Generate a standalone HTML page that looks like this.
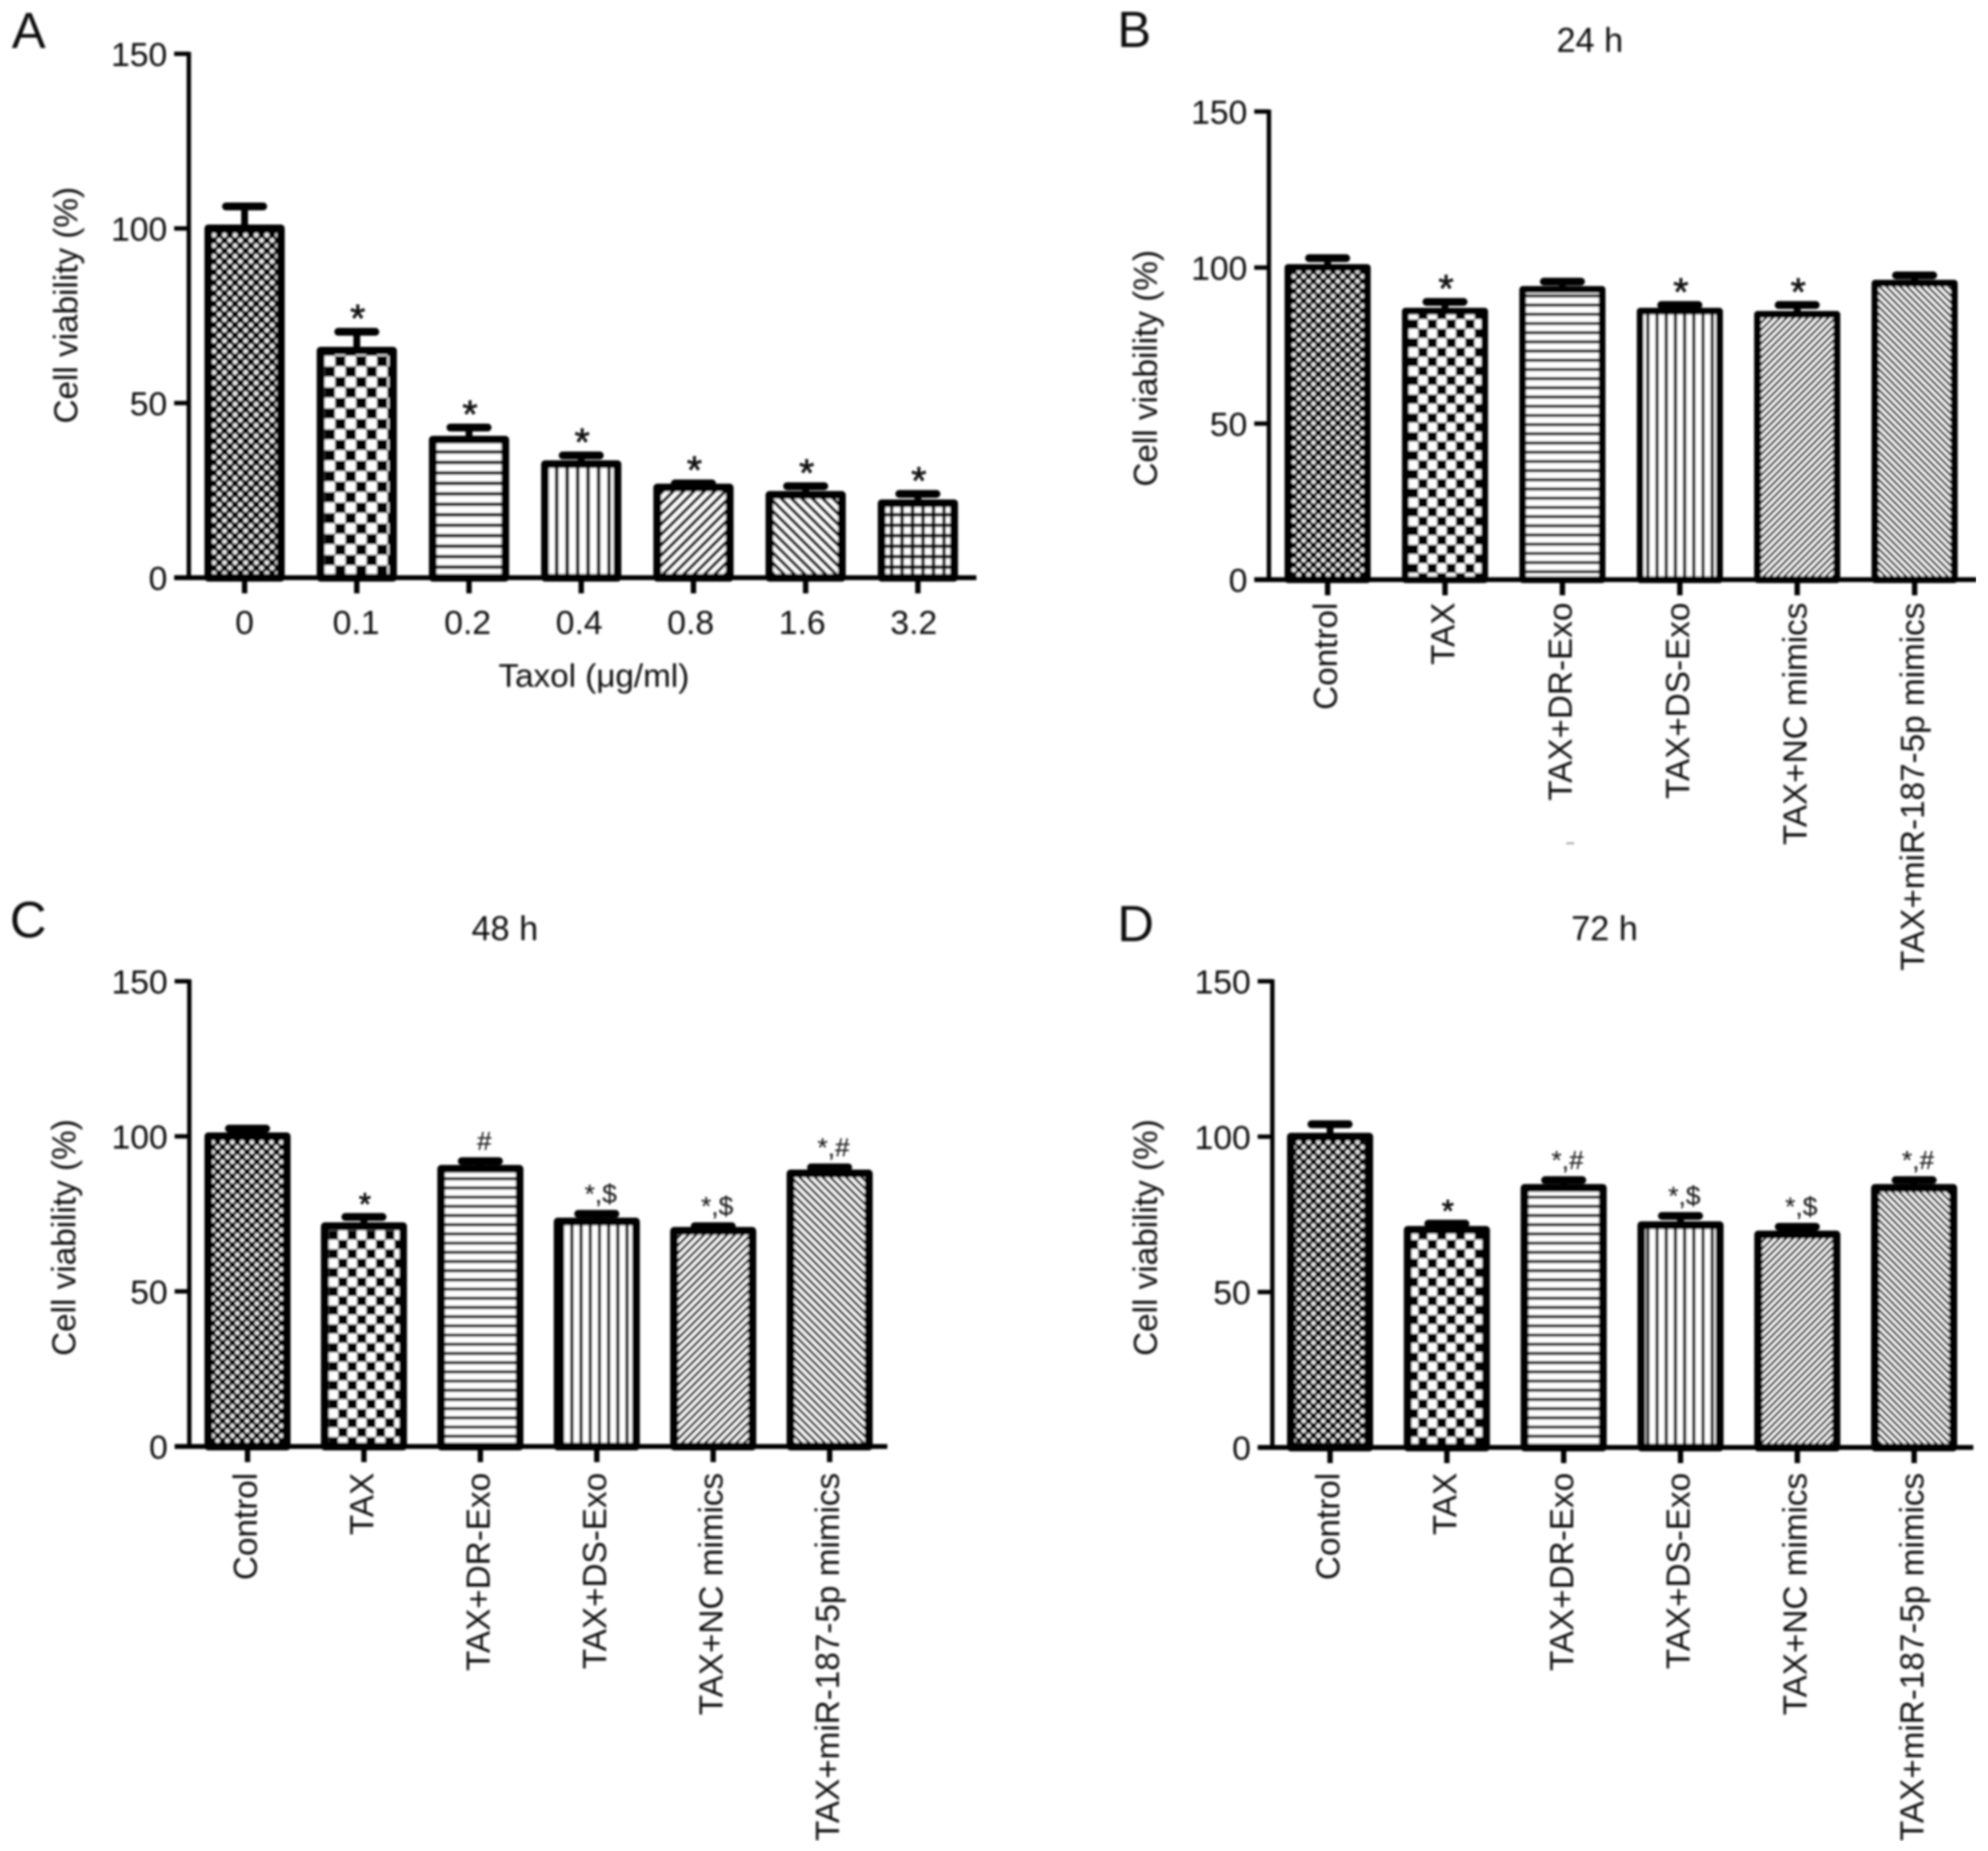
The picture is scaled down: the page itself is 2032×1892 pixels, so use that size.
<!DOCTYPE html>
<html lang="en">
<head>
<meta charset="utf-8">
<title>Cell viability panels</title>
<style>
html,body{margin:0;padding:0;background:#fff;}
svg{display:block;}
text{font-family:"Liberation Sans",Arial,sans-serif;fill:#111;}
</style>
</head>
<body>
<svg id="figure" xmlns="http://www.w3.org/2000/svg" width="2032" height="1892" viewBox="0 0 2032 1892">
<defs>
<filter id="soft" x="0" y="0" width="100%" height="100%"><feGaussianBlur stdDeviation="1"/></filter>
</defs>
<rect width="2032" height="1892" fill="#fff"/>
<g id="root" filter="url(#soft)">
<text x="12" y="49" font-size="52">A</text>
<text x="1142" y="48" font-size="52">B</text>
<text x="10" y="958" font-size="52">C</text>
<text x="1142" y="962" font-size="52">D</text>
<text x="1625" y="53" font-size="35" text-anchor="middle">24 h</text>
<text x="516" y="961" font-size="35" text-anchor="middle">48 h</text>
<text x="1640" y="961" font-size="35" text-anchor="middle">72 h</text>
<text x="607" y="702" font-size="33" text-anchor="middle" textLength="195" lengthAdjust="spacingAndGlyphs">Taxol (μg/ml)</text>
<rect x="1601" y="861" width="8" height="2" fill="#aaa"/>
</g>
</svg>
<script>
var yTickLabels = [0, 50, 100, 150];

var panelACategories = ['0', '0.1', '0.2', '0.4', '0.8', '1.6', '3.2'];
var panelAValues = [100, 65, 39.5, 32.5, 25.8, 23.7, 21.3];
var panelAErrorTops = [106.3, 70.4, 43, 35, 27, 26.2, 24];
var panelAMarks = ['', '*', '*', '*', '*', '*', '*'];

var treatmentCategories = ['Control', 'TAX', 'TAX+DR-Exo', 'TAX+DS-Exo', 'TAX+NC mimics', 'TAX+miR-187-5p mimics'];

var panelBValues = [100, 86, 93, 86, 85, 95];
var panelBErrorTops = [103, 89, 95.5, 88, 88, 97.5];
var panelBMarks = ['', '*', '', '*', '*', ''];

var panelCValues = [100, 71, 89.5, 72.5, 69.5, 88];
var panelCErrorTops = [102.5, 74, 92, 75, 71, 90];
var panelCMarks = ['', '*', '#', '*,$', '*,$', '*,#'];

var panelDValues = [100, 70, 83.5, 71.5, 68.5, 83.5];
var panelDErrorTops = [104, 72, 86, 74.5, 71, 86];
var panelDMarks = ['', '*', '*,#', '*,$', '*,$', '*,#'];

var NS = 'http://www.w3.org/2000/svg';
var root = document.getElementById('root');
var defs = document.querySelector('#figure defs');

function mk(parent, tag, attrs, txt) {
  var el = document.createElementNS(NS, tag);
  for (var k in attrs) el.setAttribute(k, attrs[k]);
  if (txt !== undefined) el.textContent = txt;
  parent.appendChild(el);
  return el;
}

function makePatterns(id, cfg) {
  var c = cfg.check, p = cfg.line, d = cfg.dot, q = cfg.diag, h = '';
  h += '<pattern id="' + id + '-dot" patternUnits="userSpaceOnUse" width="' + 2 * d + '" height="' + 2 * d + '"><rect width="' + 2 * d + '" height="' + 2 * d + '" fill="#000"/><circle cx="' + d / 2 + '" cy="' + d / 2 + '" r="' + d * 0.44 + '" fill="#eee"/><circle cx="' + 1.5 * d + '" cy="' + 1.5 * d + '" r="' + d * 0.44 + '" fill="#eee"/></pattern>';
  h += '<pattern id="' + id + '-check" patternUnits="userSpaceOnUse" width="' + 2 * c + '" height="' + 2 * c + '"><rect width="' + 2 * c + '" height="' + 2 * c + '" fill="#fff"/><rect width="' + c + '" height="' + c + '" fill="#000"/><rect x="' + c + '" y="' + c + '" width="' + c + '" height="' + c + '" fill="#000"/></pattern>';
  h += '<pattern id="' + id + '-hor" patternUnits="userSpaceOnUse" width="' + p + '" height="' + p + '"><rect width="' + p + '" height="' + p + '" fill="#fff"/><rect width="' + p + '" height="' + p * 0.34 + '" fill="#000"/></pattern>';
  h += '<pattern id="' + id + '-ver" patternUnits="userSpaceOnUse" width="' + p + '" height="' + p + '"><rect width="' + p + '" height="' + p + '" fill="#fff"/><rect width="' + p * 0.36 + '" height="' + p + '" fill="#000"/></pattern>';
  h += '<pattern id="' + id + '-up" patternUnits="userSpaceOnUse" width="' + q + '" height="' + q + '" patternTransform="rotate(45)"><rect width="' + q + '" height="' + q + '" fill="#fff"/><rect width="' + q * 0.46 + '" height="' + q + '" fill="#000"/></pattern>';
  h += '<pattern id="' + id + '-down" patternUnits="userSpaceOnUse" width="' + q + '" height="' + q + '" patternTransform="rotate(-45)"><rect width="' + q + '" height="' + q + '" fill="#fff"/><rect width="' + q * 0.46 + '" height="' + q + '" fill="#000"/></pattern>';
  h += '<pattern id="' + id + '-grid" patternUnits="userSpaceOnUse" width="' + p + '" height="' + p + '"><rect width="' + p + '" height="' + p + '" fill="#fff"/><rect width="' + p + '" height="' + p * 0.34 + '" fill="#000"/><rect width="' + p * 0.34 + '" height="' + p + '" fill="#000"/></pattern>';
  defs.insertAdjacentHTML('beforeend', h);
}

function drawPanel(g) {
  var id = g.id;
  makePatterns(id, g.patterns);
  var group = mk(root, 'g', {});
  
  

  function yScale(v) { return g.y0 - v * (g.y0 - g.y150) / 150; }
  function xScale(i) { return g.x0 + i * g.step; }
  function labelX(i) { return g.x0 + i * (g.labelStep || g.step); }

  // error bars
  g.errors.forEach(function (top, i) {
    var x = xScale(i), y = yScale(top);
    var stem = mk(group, 'line', { x1: x, x2: x, y1: yScale(g.values[i]), y2: y, stroke: '#000', 'stroke-width': 7 });
    
    
    var cap = mk(group, 'line', { x1: x - 19, x2: x + 19, y1: y, y2: y, stroke: '#000', 'stroke-width': 8, 'stroke-linecap': 'round' });
    
    
  });

  // bars
  g.values.forEach(function (v, i) {
    var x = xScale(i), w = g.barWidth - g.border, top = yScale(v);
    var bar = mk(group, 'rect', {
      x: x - w / 2, y: top, width: w, height: g.y0 - top,
      fill: 'url(#' + id + '-' + g.fills[i] + ')', stroke: '#000',
      'stroke-width': g.border, 'stroke-linejoin': 'round'
    });
    
    
  });

  // significance marks
  g.marks.forEach(function (m, i) {
    if (!m) return;
    var single = m === '*';
    var fs = single ? g.starSize : g.markSize;
    var cy = yScale(g.errors[i]) - (single && fs > 35 ? 24 : 21);
    var base = cy + fs * (single ? 0.6 : 0.36);
    var t = mk(group, 'text', { x: xScale(i) + (single ? 1 : 4), y: base, 'font-size': fs, 'text-anchor': 'middle', stroke: '#000', 'stroke-width': single ? 0.6 : 0 }, m);
    
    
  });

  // axes
  var yAxis = mk(group, 'line', { x1: g.axisX, x2: g.axisX, y1: g.y150 - 2, y2: g.y0 + 2, stroke: '#000', 'stroke-width': 4.5 });
  
  
  var xAxis = mk(group, 'line', { x1: g.axisX - 15, x2: g.axisEnd, y1: g.y0, y2: g.y0, stroke: '#000', 'stroke-width': 5 });
  
  

  yTickLabels.forEach(function (v) {
    var y = yScale(v);
    var tick = mk(group, 'line', { x1: g.axisX - 15, x2: g.axisX, y1: y, y2: y, stroke: '#000', 'stroke-width': 4.5 });
    
    
    var lab = mk(group, 'text', { x: g.axisX - 22, y: y + 12.5, 'font-size': g.tickSize, 'text-anchor': 'end' }, String(v));
    
    
  });

  g.categories.forEach(function (c, i) {
    var x = xScale(i);
    var tick = mk(group, 'line', { x1: x, x2: x, y1: g.y0, y2: g.y0 + 16, stroke: '#000', 'stroke-width': 5.5 });
    
    
    var lab;
    if (g.rotated) {
      lab = mk(group, 'text', { 'font-size': g.catSize, 'text-anchor': 'end', transform: 'translate(' + (x + 9.5) + ',' + g.catTop + ') rotate(-90)' }, c);
    } else {
      lab = mk(group, 'text', { x: labelX(i), y: g.catTop, 'font-size': g.catSize, 'text-anchor': 'middle' }, c);
    }
    
    
  });

  var title = mk(group, 'text', { 'font-size': 34, 'text-anchor': 'middle', transform: 'translate(' + g.yTitleX + ',' + g.yTitleY + ') rotate(-90)' }, 'Cell viability (%)');
  
  
}

var treatmentFills = ['dot', 'check', 'hor', 'ver', 'up', 'down'];

drawPanel({
  id: 'a', categories: panelACategories, values: panelAValues, errors: panelAErrorTops, marks: panelAMarks,
  fills: ['dot', 'check', 'hor', 'ver', 'up', 'down', 'grid'],
  patterns: { dot: 5.4, check: 10.7, line: 10.7, diag: 7.5 },
  axisX: 193, axisEnd: 998, y0: 590.5, y150: 55, x0: 250, step: 114.7, labelStep: 114, barWidth: 82, border: 8,
  rotated: false, catTop: 648, catSize: 34.5, tickSize: 34.5, markSize: 32, starSize: 40, yTitleX: 79, yTitleY: 312
});
drawPanel({
  id: 'b', categories: treatmentCategories, values: panelBValues, errors: panelBErrorTops, marks: panelBMarks,
  fills: treatmentFills,
  patterns: { dot: 5, check: 9.6, line: 9.4, diag: 5 },
  axisX: 1297, axisEnd: 2020, y0: 592.5, y150: 114, x0: 1357, step: 120, barWidth: 88, border: 7,
  rotated: true, catTop: 616, catSize: 34, tickSize: 34.5, markSize: 27, starSize: 40, yTitleX: 1182.5, yTitleY: 376.5
});
drawPanel({
  id: 'c', categories: treatmentCategories, values: panelCValues, errors: panelCErrorTops, marks: panelCMarks,
  fills: treatmentFills,
  patterns: { dot: 5, check: 9.6, line: 9.4, diag: 5.6 },
  axisX: 193.5, axisEnd: 907, y0: 1478.5, y150: 1003, x0: 253, step: 119, barWidth: 88, border: 8,
  rotated: true, catTop: 1505.5, catSize: 34, tickSize: 34.5, markSize: 27, starSize: 32, yTitleX: 77, yTitleY: 1265
});
drawPanel({
  id: 'd', categories: treatmentCategories, values: panelDValues, errors: panelDErrorTops, marks: panelDMarks,
  fills: treatmentFills,
  patterns: { dot: 5, check: 9.6, line: 9.4, diag: 5 },
  axisX: 1300.5, axisEnd: 2017, y0: 1479.5, y150: 1003, x0: 1359.5, step: 119.4, barWidth: 88, border: 8,
  rotated: true, catTop: 1505.5, catSize: 34, tickSize: 34.5, markSize: 27, starSize: 32, yTitleX: 1182.5, yTitleY: 1265
});
</script>
</body>
</html>
